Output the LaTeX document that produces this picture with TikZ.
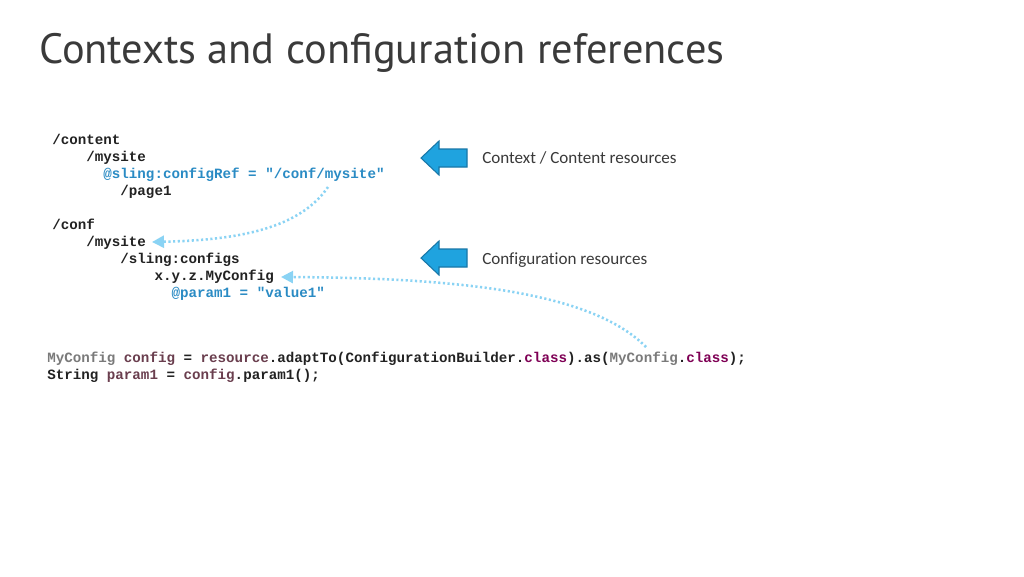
\documentclass[tikz,border=0pt]{standalone}
\usepackage{fontspec}
\setmainfont{Carlito}[Ligatures=NoCommon]
\newfontfamily\titlefont{PT Sans}
\newfontfamily\codefont{Liberation Mono}
\usetikzlibrary{arrows.meta}
\definecolor{txt}{HTML}{3A3A3A}
\definecolor{codeblk}{HTML}{222222}
\definecolor{codeblue}{HTML}{2A8BC4}
\definecolor{codegray}{HTML}{7A7A7A}
\definecolor{codevar}{HTML}{6A3E4E}
\definecolor{codekw}{HTML}{7F0055}
\definecolor{arrfill}{HTML}{1FA3DF}
\definecolor{arrdraw}{HTML}{1877A8}
\definecolor{dotblue}{HTML}{8AD3F4}
\tikzset{
  code/.style={anchor=base west, inner sep=0pt, font=\codefont\bfseries\fontsize{10.65pt}{12pt}\selectfont, text=codeblk},
  lbl/.style={anchor=west, inner sep=0pt, font=\fontsize{12.8pt}{15pt}\selectfont, text=txt},
  blockarrow/.style={fill=arrfill, draw=arrdraw, line width=0.8pt, line join=miter},
  dotlink/.style={draw=dotblue, line width=1.9pt, dash pattern=on 1.6pt off 1.9pt, -{Triangle[length=9pt,width=9pt,fill=dotblue]}}
}
\newcommand{\cb}[1]{\textcolor{codeblue}{#1}}
\newcommand{\cg}[1]{\textcolor{codegray}{#1}}
\newcommand{\cv}[1]{\textcolor{codevar}{#1}}
\newcommand{\ck}[1]{\textcolor{codekw}{#1}}
\begin{document}
\begin{tikzpicture}[x=0.75pt,y=-0.75pt]
\useasboundingbox[fill=white] (0,0) rectangle (1024,576);
% title
\node[anchor=base west, inner sep=0pt, font=\titlefont\fontsize{31.8pt}{36pt}\selectfont, text=txt] (title) at (39,63) {Contexts and configuration references};
% content tree
\node[code] (c1) at (52,144) {/content};
\node[code] (c2) at (52,161) {\ \ \ \ /mysite};
\node[code] (c3) at (52,178) {\ \ \ \ \ \ \cb{@sling:configRef = "/conf/mysite"}};
\node[code] (c4) at (52,195) {\ \ \ \ \ \ \ \ /page1};
% conf tree
\node[code] (f1) at (52,229) {/conf};
\node[code] (f2) at (52,246) {\ \ \ \ /mysite};
\node[code] (f3) at (52,263) {\ \ \ \ \ \ \ \ /sling:configs};
\node[code] (f4) at (52,280) {\ \ \ \ \ \ \ \ \ \ \ \ x.y.z.MyConfig};
\node[code] (f5) at (52,297) {\ \ \ \ \ \ \ \ \ \ \ \ \ \ \cb{@param1 = "value1"}};
% java code
\node[code] (j1) at (47,362) {\cg{MyConfig} \cv{config} = \cv{resource}.adaptTo(ConfigurationBuilder.\ck{class}).as(\cg{MyConfig}.\ck{class});};
\node[code] (j2) at (47,379) {String \cv{param1} = \cv{config}.param1();};
% block arrows
\draw[blockarrow] (421,158) -- (439,141) -- (439,149) -- (467,149) -- (467,167) -- (439,167) -- (439,175) -- cycle;
\draw[blockarrow] (421,258) -- (439,241) -- (439,249) -- (467,249) -- (467,267) -- (439,267) -- (439,275) -- cycle;
\node[lbl] (l1) at (482,158) {Context / Content resources};
\node[lbl] (l2) at (482,260) {Configuration resources};
% dotted links
\coordinate (s1) at (328,187);
\coordinate (e1) at (152,242);
\coordinate (s2) at (646,347);
\coordinate (e2) at (281,277);
\draw[dotlink] (s1) .. controls (300,228) and (240,240) .. (e1);
\draw[dotlink] (s2) .. controls (590,290) and (450,278) .. (e2);
\end{tikzpicture}
\end{document}
